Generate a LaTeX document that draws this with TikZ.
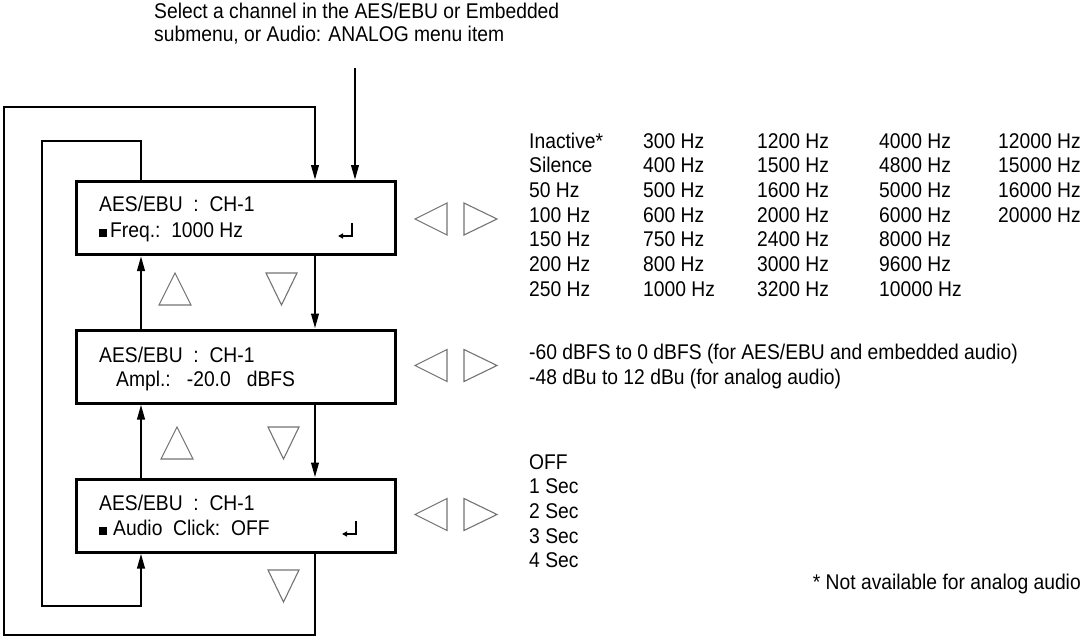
\documentclass[tikz,border=0pt]{standalone}
\usepackage{fontspec}
\setmainfont{Liberation Sans}[FakeStretch=0.905]
\usetikzlibrary{arrows.meta}
\begin{document}
\begin{tikzpicture}[x=1pt,y=-1pt,
  menubox/.style={draw,line width=3pt,minimum width=319pt,minimum height=73pt,inner sep=0pt},
  txt/.style={anchor=base west,inner sep=0pt,font=\fontsize{21.3}{24.7}\selectfont},
  conn/.style={line width=2.4pt},
  arr/.style={conn,-{Triangle[length=15pt,width=7.5pt]}},
  navtri/.style={draw=black!55,line width=1.1pt,line join=miter},
  retsym/.style={line width=1.6pt,-{Triangle[length=5pt,width=5pt]}},
]
\useasboundingbox (0,0) rectangle (1084,637);
% boxes
\node[menubox] (b1) at (236,218) {};
\node[menubox] (b2) at (236,366.5) {};
\node[menubox] (b3) at (236,515.5) {};
% box texts
\node[txt] (b1a) at (99,211) {AES/EBU\ \ :\ \ CH-1};
\node[txt] (b1b) at (99,237) {\rule{8pt}{8pt}\hspace{3pt}Freq.:\ \ 1000 Hz};
\node[txt] (b2a) at (99,362) {AES/EBU\ \ :\ \ CH-1};
\node[txt] (b2b) at (116,386) {Ampl.:\ \ \ -20.0\ \ \ dBFS};
\node[txt] (b3a) at (99,510) {AES/EBU\ \ :\ \ CH-1};
\node[txt] (b3b) at (99,535) {\rule{8pt}{8pt}\hspace{6pt}Audio\ \ Click:\ \ OFF};
% return symbols
\coordinate (r1) at (352,223);
\draw[retsym] (r1) -- ++(0,13) -- ++(-14,0);
\coordinate (r3) at (356,521);
\draw[retsym] (r3) -- ++(0,13) -- ++(-14,0);
% header
\node[txt] (h1) at (154,18) {Select a channel in the AES/EBU or Embedded};
\node[txt] (h2) at (154,41) {submenu, or Audio: ANALOG menu item};
% connector coordinates
\coordinate (xu) at (141,0);
\coordinate (xd) at (315,0);
\coordinate (entry) at (355,68);
\coordinate (olb) at (4,635);
\coordinate (olt) at (4,107);
\coordinate (ilt) at (42,141);
\coordinate (ilb) at (42,606);
% entry arrow
\draw[arr] (entry) -- (entry |- b1.north);
% up/down arrows
\draw[arr] (xd |- b1.south) -- (xd |- b2.north);
\draw[arr] (xd |- b2.south) -- (xd |- b3.north);
\draw[arr] (xu |- b2.north) -- (xu |- b1.south);
\draw[arr] (xu |- b3.north) -- (xu |- b2.south);
% outer loop
\draw[arr] (xd |- b3.south) -- (xd |- olb) -- (olb) -- (olt) -- (xd |- olt) -- (xd |- b1.north);
% inner loop
\draw[arr] (xu |- b1.north) -- (xu |- ilt) -- (ilt) -- (ilb) -- (xu |- ilb) -- (xu |- b3.south);
% navigation triangles
\draw[navtri] (159,305) -- (191,305) -- (175,273) -- cycle;
\draw[navtri] (266,273) -- (297,273) -- (281.5,305) -- cycle;
\draw[navtri] (161,459) -- (193,459) -- (177,427) -- cycle;
\draw[navtri] (268,427) -- (299,427) -- (283.5,459) -- cycle;
\draw[navtri] (268,570) -- (299,570) -- (283.5,602) -- cycle;
\foreach \cy in {219,365.5,514.5}{
  \draw[navtri] (447,\cy-16) -- (447,\cy+16) -- (415,\cy) -- cycle;
  \draw[navtri] (464,\cy-16) -- (464,\cy+16) -- (497,\cy) -- cycle;
}
% frequency table
\foreach \txt [count=\i from 0] in {Inactive*,Silence,50 Hz,100 Hz,150 Hz,200 Hz,250 Hz}{
  \node[txt] (fa\i) at (529,148+24.7*\i) {\txt};
}
\foreach \txt [count=\i from 0] in {300 Hz,400 Hz,500 Hz,600 Hz,750 Hz,800 Hz,1000 Hz}{
  \node[txt] (fb\i) at (643,148+24.7*\i) {\txt};
}
\foreach \txt [count=\i from 0] in {1200 Hz,1500 Hz,1600 Hz,2000 Hz,2400 Hz,3000 Hz,3200 Hz}{
  \node[txt] (fc\i) at (757,148+24.7*\i) {\txt};
}
\foreach \txt [count=\i from 0] in {4000 Hz,4800 Hz,5000 Hz,6000 Hz,8000 Hz,9600 Hz,10000 Hz}{
  \node[txt] (fd\i) at (879,148+24.7*\i) {\txt};
}
\foreach \txt [count=\i from 0] in {12000 Hz,15000 Hz,16000 Hz,20000 Hz}{
  \node[txt] (fe\i) at (998,148+24.7*\i) {\txt};
}
% amplitude list
\node[txt] (am1) at (529,359) {-60 dBFS to 0 dBFS (for AES/EBU and embedded audio)};
\node[txt] (am2) at (529,384) {-48 dBu to 12 dBu (for analog audio)};
% click list
\foreach \txt [count=\i from 0] in {OFF,1 Sec,2 Sec,3 Sec,4 Sec}{
  \node[txt] (ck\i) at (529,469+24.7*\i) {\txt};
}
\node[txt,anchor=base east] (note) at (1081,589) {* Not available for analog audio};
\end{tikzpicture}
\end{document}
